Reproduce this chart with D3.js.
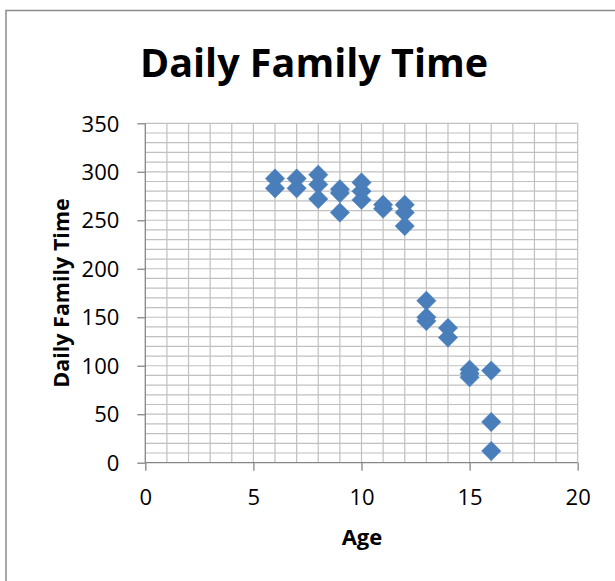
<!DOCTYPE html>
<html>
<head>
<meta charset="utf-8">
<script src="https://cdn.jsdelivr.net/npm/d3@7/dist/d3.min.js"></script>
<style>
  html, body { margin: 0; padding: 0; background: #fff; }
  svg { display: block; }
  text { font-family: "Open Sans", "Noto Sans", sans-serif; fill: #000; }
</style>
</head>
<body>
<svg id="chart" width="615" height="581"></svg>
<script>
// ---- Data ----
const ages = [6, 6, 7, 7, 8, 8, 8, 9, 9, 9, 10, 10, 10, 11, 11, 12, 12, 12, 13, 13, 13, 14, 14, 15, 15, 15, 16, 16, 16];
const familyTime = [293, 283, 293, 283, 297, 287, 272, 282, 278, 258, 289, 280, 271, 266, 262, 266, 258, 244, 167, 150, 146, 139, 129, 96, 92, 88, 95, 42, 12];
const xTicks = [0, 5, 10, 15, 20];
const yTicks = [0, 50, 100, 150, 200, 250, 300, 350];
const chartTitle = "Daily Family Time";
const xTitle = "Age";
const yTitle = "Daily Family Time";

const points = ages.map((a, i) => ({ x: a, y: familyTime[i] }));

const svg = d3.select("#chart");

// chart border
svg.append("rect")
  .attr("x", 6).attr("y", 10.5)
  .attr("width", 700).attr("height", 700)
  .attr("fill", "#fff")
  .attr("stroke", "#8c8c8c")
  .attr("stroke-width", 1.5);

const x = d3.scaleLinear().domain([0, 20]).range([145.3, 577.7]);
const y = d3.scaleLinear().domain([0, 350]).range([462.7, 123.3]);

// gridlines
const grid = svg.append("g").attr("stroke", "#c0c0c0").attr("stroke-width", 1.2);
grid.selectAll("line.v").data(d3.range(1, 21)).join("line")
  .attr("x1", d => x(d)).attr("x2", d => x(d))
  .attr("y1", y(0)).attr("y2", y(350));
grid.selectAll("line.h").data(d3.range(10, 351, 10)).join("line")
  .attr("x1", x(0)).attr("x2", x(20))
  .attr("y1", d => y(d)).attr("y2", d => y(d));

// axes
const xAxis = svg.append("g")
  .attr("transform", `translate(0,${y(0)})`)
  .call(d3.axisBottom(x).tickValues(xTicks).tickSize(8).tickPadding(18).tickFormat(d3.format("d")));
const yAxis = svg.append("g")
  .attr("transform", `translate(${x(0)},0)`)
  .call(d3.axisLeft(y).tickValues(yTicks).tickSize(8).tickPadding(18).tickFormat(d3.format("d")));

[xAxis, yAxis].forEach(g => {
  g.select(".domain").attr("stroke", "#868686").attr("stroke-width", 1.3);
  g.selectAll(".tick line").attr("stroke", "#868686").attr("stroke-width", 1.3);
  g.selectAll(".tick text")
    .attr("font-family", "'Open Sans', sans-serif")
    .attr("font-size", 22)
    .attr("fill", "#000");
});
xAxis.select(".domain").attr("d", `M${x(0)},0H${x(20)}`);
yAxis.select(".domain").attr("d", `M0,${y(0)}V${y(350)}`);
xAxis.selectAll(".tick text").attr("dy", null).attr("y", 42);
yAxis.selectAll(".tick text").attr("dy", "0.35em");

// markers (diamonds)
const diamond = {
  draw(ctx, size) {
    const r = Math.sqrt(size) / 2;
    ctx.moveTo(0, -r); ctx.lineTo(r, 0); ctx.lineTo(0, r); ctx.lineTo(-r, 0); ctx.closePath();
  }
};
svg.append("g").selectAll("path").data(points).join("path")
  .attr("transform", d => `translate(${x(d.x)},${y(d.y)})`)
  .attr("d", d3.symbol().type(diamond).size(19.4 * 19.4))
  .attr("fill", "#4a7ebb")
  .attr("stroke", "#4a7ebb")
  .attr("stroke-width", 0.5);

// titles
svg.append("text")
  .attr("x", 314).attr("y", 77)
  .attr("text-anchor", "middle")
  .attr("font-size", 39.5).attr("font-weight", "bold")
  .text(chartTitle);

svg.append("text")
  .attr("x", 362).attr("y", 545)
  .attr("text-anchor", "middle")
  .attr("font-size", 22).attr("font-weight", "bold")
  .text(xTitle);

svg.append("text")
  .attr("transform", "translate(69,293) rotate(-90)")
  .attr("text-anchor", "middle")
  .attr("font-size", 21.5).attr("font-weight", "bold")
  .text(yTitle);
</script>
</body>
</html>
